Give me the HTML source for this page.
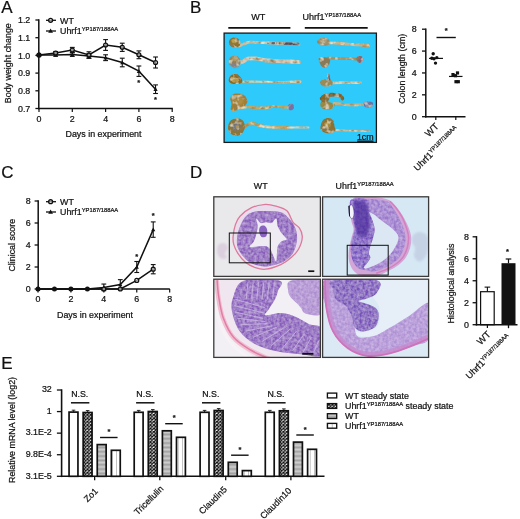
<!DOCTYPE html>
<html><head><meta charset="utf-8"><title>Figure</title>
<style>
html,body{margin:0;padding:0;background:#fff;}
body{width:520px;height:519px;overflow:hidden;}
svg{display:block;filter:blur(0.3px);font-family:"Liberation Sans",sans-serif;fill:#111;}
svg text{stroke:#111;stroke-width:0.22px;}
</style></head><body>
<svg width="520" height="519" viewBox="0 0 520 519">
<defs>
<filter id="b1" filterUnits="userSpaceOnUse" x="0" y="0" width="520" height="519"><feGaussianBlur stdDeviation="0.6"/></filter>
<filter id="b2" filterUnits="userSpaceOnUse" x="0" y="0" width="520" height="519"><feGaussianBlur stdDeviation="1.2"/></filter>
<filter id="b3" filterUnits="userSpaceOnUse" x="0" y="0" width="520" height="519"><feGaussianBlur stdDeviation="2.2"/></filter>
<filter id="tex" filterUnits="userSpaceOnUse" x="200" y="190" width="240" height="175"><feTurbulence type="fractalNoise" baseFrequency="0.35" numOctaves="2" seed="3" result="n"/><feColorMatrix in="n" type="matrix" values="0 0 0 0 0.88  0 0 0 0 0.76  0 0 0 0 0.96  1.3 0 0 0 -0.35" result="w"/><feGaussianBlur in="SourceGraphic" stdDeviation="0.6" result="s"/><feComposite in="w" in2="s" operator="in" result="wi"/><feColorMatrix in="wi" type="matrix" values="1 0 0 0 0  0 1 0 0 0  0 0 1 0 0  0 0 0 0.55 0" result="wl"/><feMerge><feMergeNode in="s"/><feMergeNode in="wl"/></feMerge></filter>
<filter id="texB" filterUnits="userSpaceOnUse" x="222" y="31" width="157" height="114"><feTurbulence type="fractalNoise" baseFrequency="0.2" numOctaves="2" seed="7" result="n"/><feColorMatrix in="n" type="matrix" values="0 0 0 0 0.30  0 0 0 0 0.20  0 0 0 0 0.08  2.6 0 0 0 -1.15" result="d"/><feComposite in="d" in2="SourceAlpha" operator="in" result="di"/><feColorMatrix in="n" type="matrix" values="0 0 0 0 0.90  0 0 0 0 0.84  0 0 0 0 0.66  0 2.4 0 0 -1.22" result="l"/><feComposite in="l" in2="SourceAlpha" operator="in" result="li"/><feMerge><feMergeNode in="SourceGraphic"/><feMergeNode in="di"/><feMergeNode in="li"/></feMerge></filter>
<pattern id="chk" width="3.5" height="3.4" patternUnits="userSpaceOnUse"><rect width="3.5" height="3.4" fill="#fff"/><path d="M0,0 L3.5,3.4 M3.5,0 L0,3.4" stroke="#111" stroke-width="1.15"/></pattern>
<pattern id="hst" width="2" height="1.3" patternUnits="userSpaceOnUse"><rect width="2" height="1.3" fill="#cfcfcf"/><rect width="2" height="0.45" fill="#8c8c8c"/></pattern>
<pattern id="vst" width="4.4" height="2" patternUnits="userSpaceOnUse"><rect width="4.4" height="2" fill="#fff"/><rect x="1.9" width="0.6" height="2" fill="#9a9a9a"/></pattern>
<clipPath id="cB"><rect x="224" y="33" width="152" height="110"/></clipPath>
<clipPath id="cD1"><rect x="214" y="197" width="106" height="79"/></clipPath>
<clipPath id="cD2"><rect x="322" y="197" width="106" height="79"/></clipPath>
<clipPath id="cD3"><rect x="214" y="279" width="106" height="78"/></clipPath>
<clipPath id="cD4"><rect x="322" y="279" width="106" height="78"/></clipPath>
</defs>
<rect width="520" height="519" fill="#fff"/>

<text x="1.2" y="13.3" font-size="17" text-anchor="start" font-weight="normal" >A</text>
<text x="190" y="13.3" font-size="17" text-anchor="start" font-weight="normal" >B</text>
<text x="1.2" y="177.5" font-size="17" text-anchor="start" font-weight="normal" >C</text>
<text x="190" y="177.5" font-size="17" text-anchor="start" font-weight="normal" >D</text>
<text x="1.2" y="369" font-size="17" text-anchor="start" font-weight="normal" >E</text>
<line x1="38.8" y1="19.3" x2="38.8" y2="109.2" stroke="#111" stroke-width="1.5" />
<line x1="38.1" y1="108.5" x2="172.8" y2="108.5" stroke="#111" stroke-width="1.5" />
<line x1="35.4" y1="20.0" x2="38.8" y2="20.0" stroke="#111" stroke-width="1.3" />
<text x="30.3" y="23.1" font-size="8.9" text-anchor="end" font-weight="normal" >1.2</text>
<line x1="35.4" y1="37.699999999999974" x2="38.8" y2="37.699999999999974" stroke="#111" stroke-width="1.3" />
<text x="30.3" y="40.799999999999976" font-size="8.9" text-anchor="end" font-weight="normal" >1.1</text>
<line x1="35.4" y1="55.39999999999999" x2="38.8" y2="55.39999999999999" stroke="#111" stroke-width="1.3" />
<text x="30.3" y="58.49999999999999" font-size="8.9" text-anchor="end" font-weight="normal" >1.0</text>
<line x1="35.4" y1="73.1" x2="38.8" y2="73.1" stroke="#111" stroke-width="1.3" />
<text x="30.3" y="76.19999999999999" font-size="8.9" text-anchor="end" font-weight="normal" >0.9</text>
<line x1="35.4" y1="90.79999999999998" x2="38.8" y2="90.79999999999998" stroke="#111" stroke-width="1.3" />
<text x="30.3" y="93.89999999999998" font-size="8.9" text-anchor="end" font-weight="normal" >0.8</text>
<line x1="35.4" y1="108.5" x2="38.8" y2="108.5" stroke="#111" stroke-width="1.3" />
<text x="30.3" y="111.6" font-size="8.9" text-anchor="end" font-weight="normal" >0.7</text>
<line x1="39.0" y1="108.5" x2="39.0" y2="112" stroke="#111" stroke-width="1.2" />
<text x="39.0" y="121.5" font-size="8.9" text-anchor="middle" font-weight="normal" >0</text>
<line x1="72.3" y1="108.5" x2="72.3" y2="112" stroke="#111" stroke-width="1.2" />
<text x="72.3" y="121.5" font-size="8.9" text-anchor="middle" font-weight="normal" >2</text>
<line x1="105.6" y1="108.5" x2="105.6" y2="112" stroke="#111" stroke-width="1.2" />
<text x="105.6" y="121.5" font-size="8.9" text-anchor="middle" font-weight="normal" >4</text>
<line x1="138.89999999999998" y1="108.5" x2="138.89999999999998" y2="112" stroke="#111" stroke-width="1.2" />
<text x="138.89999999999998" y="121.5" font-size="8.9" text-anchor="middle" font-weight="normal" >6</text>
<line x1="172.2" y1="108.5" x2="172.2" y2="112" stroke="#111" stroke-width="1.2" />
<text x="172.2" y="121.5" font-size="8.9" text-anchor="middle" font-weight="normal" >8</text>
<text x="103.5" y="137.2" font-size="8.9" text-anchor="middle" font-weight="normal" >Days in experiment</text>
<text transform="translate(10.6,63.2) rotate(-90)" font-size="8.9" text-anchor="middle">Body weight change</text>
<polyline fill="none" stroke="#111" stroke-width="1.5" points="39.0,55 55.6,53 72.3,50 88.9,55 105.6,45 122.2,47.3 138.9,54.8 155.5,62.5"/>
<polyline fill="none" stroke="#111" stroke-width="1.5" points="39.0,55 55.6,55 72.3,54.6 88.9,56 105.6,57.7 122.2,62.5 138.9,71.2 155.5,89.2"/>
<line x1="55.65" y1="51.5" x2="55.65" y2="54.5" stroke="#111" stroke-width="1.1" />
<line x1="53.25" y1="51.5" x2="58.05" y2="51.5" stroke="#111" stroke-width="1.1" />
<line x1="53.25" y1="54.5" x2="58.05" y2="54.5" stroke="#111" stroke-width="1.1" />
<line x1="55.65" y1="53.8" x2="55.65" y2="56.2" stroke="#111" stroke-width="1.1" />
<line x1="53.25" y1="53.8" x2="58.05" y2="53.8" stroke="#111" stroke-width="1.1" />
<line x1="53.25" y1="56.2" x2="58.05" y2="56.2" stroke="#111" stroke-width="1.1" />
<line x1="72.3" y1="47.4" x2="72.3" y2="52.6" stroke="#111" stroke-width="1.1" />
<line x1="69.89999999999999" y1="47.4" x2="74.7" y2="47.4" stroke="#111" stroke-width="1.1" />
<line x1="69.89999999999999" y1="52.6" x2="74.7" y2="52.6" stroke="#111" stroke-width="1.1" />
<line x1="72.3" y1="52.800000000000004" x2="72.3" y2="56.4" stroke="#111" stroke-width="1.1" />
<line x1="69.89999999999999" y1="52.800000000000004" x2="74.7" y2="52.800000000000004" stroke="#111" stroke-width="1.1" />
<line x1="69.89999999999999" y1="56.4" x2="74.7" y2="56.4" stroke="#111" stroke-width="1.1" />
<line x1="88.94999999999999" y1="51.8" x2="88.94999999999999" y2="58.2" stroke="#111" stroke-width="1.1" />
<line x1="86.54999999999998" y1="51.8" x2="91.35" y2="51.8" stroke="#111" stroke-width="1.1" />
<line x1="86.54999999999998" y1="58.2" x2="91.35" y2="58.2" stroke="#111" stroke-width="1.1" />
<line x1="88.94999999999999" y1="53.8" x2="88.94999999999999" y2="58.2" stroke="#111" stroke-width="1.1" />
<line x1="86.54999999999998" y1="53.8" x2="91.35" y2="53.8" stroke="#111" stroke-width="1.1" />
<line x1="86.54999999999998" y1="58.2" x2="91.35" y2="58.2" stroke="#111" stroke-width="1.1" />
<line x1="105.6" y1="39.6" x2="105.6" y2="50.4" stroke="#111" stroke-width="1.1" />
<line x1="103.19999999999999" y1="39.6" x2="108.0" y2="39.6" stroke="#111" stroke-width="1.1" />
<line x1="103.19999999999999" y1="50.4" x2="108.0" y2="50.4" stroke="#111" stroke-width="1.1" />
<line x1="105.6" y1="54.800000000000004" x2="105.6" y2="60.6" stroke="#111" stroke-width="1.1" />
<line x1="103.19999999999999" y1="54.800000000000004" x2="108.0" y2="54.800000000000004" stroke="#111" stroke-width="1.1" />
<line x1="103.19999999999999" y1="60.6" x2="108.0" y2="60.6" stroke="#111" stroke-width="1.1" />
<line x1="122.25" y1="43.199999999999996" x2="122.25" y2="51.4" stroke="#111" stroke-width="1.1" />
<line x1="119.85" y1="43.199999999999996" x2="124.65" y2="43.199999999999996" stroke="#111" stroke-width="1.1" />
<line x1="119.85" y1="51.4" x2="124.65" y2="51.4" stroke="#111" stroke-width="1.1" />
<line x1="122.25" y1="58.2" x2="122.25" y2="66.8" stroke="#111" stroke-width="1.1" />
<line x1="119.85" y1="58.2" x2="124.65" y2="58.2" stroke="#111" stroke-width="1.1" />
<line x1="119.85" y1="66.8" x2="124.65" y2="66.8" stroke="#111" stroke-width="1.1" />
<line x1="138.89999999999998" y1="50.9" x2="138.89999999999998" y2="58.699999999999996" stroke="#111" stroke-width="1.1" />
<line x1="136.49999999999997" y1="50.9" x2="141.29999999999998" y2="50.9" stroke="#111" stroke-width="1.1" />
<line x1="136.49999999999997" y1="58.699999999999996" x2="141.29999999999998" y2="58.699999999999996" stroke="#111" stroke-width="1.1" />
<line x1="138.89999999999998" y1="66.0" x2="138.89999999999998" y2="76.4" stroke="#111" stroke-width="1.1" />
<line x1="136.49999999999997" y1="66.0" x2="141.29999999999998" y2="66.0" stroke="#111" stroke-width="1.1" />
<line x1="136.49999999999997" y1="76.4" x2="141.29999999999998" y2="76.4" stroke="#111" stroke-width="1.1" />
<line x1="155.54999999999998" y1="57.0" x2="155.54999999999998" y2="68.0" stroke="#111" stroke-width="1.1" />
<line x1="153.14999999999998" y1="57.0" x2="157.95" y2="57.0" stroke="#111" stroke-width="1.1" />
<line x1="153.14999999999998" y1="68.0" x2="157.95" y2="68.0" stroke="#111" stroke-width="1.1" />
<line x1="155.54999999999998" y1="84.9" x2="155.54999999999998" y2="93.5" stroke="#111" stroke-width="1.1" />
<line x1="153.14999999999998" y1="84.9" x2="157.95" y2="84.9" stroke="#111" stroke-width="1.1" />
<line x1="153.14999999999998" y1="93.5" x2="157.95" y2="93.5" stroke="#111" stroke-width="1.1" />
<polygon points="39.0,52.9 36.9,56.68 41.1,56.68" fill="#111"/>
<circle cx="39.0" cy="55" r="1.95" fill="#fff" fill-opacity="0.55" stroke="#111" stroke-width="1.3"/>
<polygon points="55.65,52.9 53.55,56.68 57.75,56.68" fill="#111"/>
<circle cx="55.65" cy="53" r="1.95" fill="#fff" fill-opacity="0.55" stroke="#111" stroke-width="1.3"/>
<polygon points="72.3,52.5 70.2,56.28 74.39999999999999,56.28" fill="#111"/>
<circle cx="72.3" cy="50" r="1.95" fill="#fff" fill-opacity="0.55" stroke="#111" stroke-width="1.3"/>
<polygon points="88.94999999999999,53.9 86.85,57.68 91.04999999999998,57.68" fill="#111"/>
<circle cx="88.94999999999999" cy="55" r="1.95" fill="#fff" fill-opacity="0.55" stroke="#111" stroke-width="1.3"/>
<polygon points="105.6,55.6 103.5,59.38 107.69999999999999,59.38" fill="#111"/>
<circle cx="105.6" cy="45" r="1.95" fill="#fff" fill-opacity="0.55" stroke="#111" stroke-width="1.3"/>
<polygon points="122.25,60.4 120.15,64.18 124.35,64.18" fill="#111"/>
<circle cx="122.25" cy="47.3" r="1.95" fill="#fff" fill-opacity="0.55" stroke="#111" stroke-width="1.3"/>
<polygon points="138.89999999999998,69.10000000000001 136.79999999999998,72.88000000000001 140.99999999999997,72.88000000000001" fill="#111"/>
<circle cx="138.89999999999998" cy="54.8" r="1.95" fill="#fff" fill-opacity="0.55" stroke="#111" stroke-width="1.3"/>
<polygon points="155.54999999999998,87.10000000000001 153.45,90.88000000000001 157.64999999999998,90.88000000000001" fill="#111"/>
<circle cx="155.54999999999998" cy="62.5" r="1.95" fill="#fff" fill-opacity="0.55" stroke="#111" stroke-width="1.3"/>
<circle cx="39.0" cy="55" r="2.5" fill="#111"/>
<text x="137.14" y="84.50" font-size="7.5" font-weight="bold">*</text>
<text x="153.89" y="102.20" font-size="7.5" font-weight="bold">*</text>
<line x1="46" y1="20.3" x2="56" y2="20.3" stroke="#111" stroke-width="1.3" />
<circle cx="50.6" cy="20.3" r="1.95" fill="#fff" fill-opacity="0.55" stroke="#111" stroke-width="1.3"/>
<line x1="46" y1="31" x2="56" y2="31" stroke="#111" stroke-width="1.3" />
<polygon points="50.6,28.400000000000002 48.2,32.72 53.0,32.72" fill="#111"/>
<text x="60" y="23.5" font-size="8.9" text-anchor="start" font-weight="normal" >WT</text>
<text x="60" y="34.3" font-size="8.9" text-anchor="start" font-weight="normal" >Uhrf1<tspan font-size="5.8" dy="-3.38" font-weight="normal">YP187/188AA</tspan></text>
<text x="258.3" y="20.4" font-size="9.1" text-anchor="middle" font-weight="normal" stroke-width="0.4">WT</text>
<line x1="228.3" y1="27.9" x2="290.4" y2="27.9" stroke="#111" stroke-width="1.6" />
<text x="302.6" y="20.4" font-size="9.0" text-anchor="start" font-weight="normal" stroke-width="0.4">Uhrf1<tspan font-size="5.8" dy="-3.42" font-weight="normal">YP187/188AA</tspan></text>
<line x1="304.8" y1="27.9" x2="367.7" y2="27.9" stroke="#111" stroke-width="1.6" />
<g clip-path="url(#cB)">
<rect x="223" y="32" width="155" height="112" fill="#2ecafb"/>
<g filter="url(#texB)">
<path d="M239.3,45.9 C240.2,45.6 242.8,44.5 244.5,43.8 C246.2,43.2 247.1,42.3 249.7,42.1 C252.3,41.9 256.0,42.3 260.1,42.5 C264.1,42.6 269.3,43.0 273.9,43.2 C278.5,43.3 283.6,43.3 287.8,43.5 C292.0,43.7 297.1,44.1 299.0,44.2" fill="none" stroke="#cfc4a6" stroke-width="2.7" stroke-linecap="round" stroke-linejoin="round" filter="url(#b1)" />
<path d="M268.4,43.0 C269.3,43.0 273.0,43.1 273.9,43.2" fill="none" stroke="#5a566a" stroke-width="2.2" stroke-linecap="round" stroke-linejoin="round" filter="url(#b1)" />
<path d="M277.0,43.2 C277.4,43.2 279.1,43.3 279.5,43.3" fill="none" stroke="#5a566a" stroke-width="2.0" stroke-linecap="round" stroke-linejoin="round" filter="url(#b1)" />
<path d="M284.3,43.5 C286.6,43.6 295.8,43.9 298.2,44.0" fill="none" stroke="#4c4a62" stroke-width="2.4" stroke-linecap="round" stroke-linejoin="round" filter="url(#b1)" />
<path d="M229.3,40.4 C229.8,39.3 231.1,38.1 232.4,37.8 C233.7,37.4 235.9,37.7 237.2,38.3 C238.5,38.9 239.7,40.1 240.2,41.2 C240.6,42.4 240.6,44.2 240.0,45.2 C239.4,46.2 238.0,47.0 236.7,47.3 C235.4,47.6 233.3,47.5 232.0,47.0 C230.8,46.4 229.7,45.3 229.3,44.2 C228.8,43.1 228.8,41.5 229.3,40.4Z" fill="#8d7330" filter="url(#b1)" />
<path d="M231.5,40.0 C232.0,39.4 234.0,38.9 235.0,39.0 C236.0,39.1 237.4,40.1 237.6,40.7 C237.7,41.4 236.7,42.6 235.8,43.0 C235.0,43.3 233.1,43.3 232.4,42.8 C231.7,42.3 231.1,40.7 231.5,40.0Z" fill="#bfa552" filter="url(#b1)" opacity="0.9"/>
<path d="M239.3,62.9 C240.0,62.6 242.2,61.8 243.6,61.2 C245.1,60.5 245.8,59.1 248.0,58.7 C250.1,58.3 253.4,58.4 256.6,58.7 C259.8,59.0 263.2,60.1 267.0,60.5 C270.8,60.9 275.1,61.0 279.1,61.2 C283.2,61.3 287.9,61.3 291.2,61.5 C294.5,61.7 297.7,62.1 299.0,62.2" fill="none" stroke="#d6c8b4" stroke-width="3.8" stroke-linecap="round" stroke-linejoin="round" filter="url(#b1)" />
<path d="M249.7,58.4 C251.7,58.5 259.8,59.0 261.8,59.1" fill="none" stroke="#b39a72" stroke-width="1.4" stroke-linecap="round" stroke-linejoin="round" filter="url(#b1)" opacity="0.8"/>
<path d="M228.9,60.3 C229.3,59.0 230.2,57.0 231.5,56.3 C232.8,55.6 235.3,55.4 236.7,56.0 C238.1,56.5 239.4,58.1 240.0,59.4 C240.6,60.7 240.6,62.5 240.2,63.8 C239.8,65.0 238.9,66.5 237.6,67.0 C236.3,67.6 233.8,67.5 232.4,67.0 C231.0,66.6 229.8,65.4 229.3,64.3 C228.7,63.1 228.5,61.6 228.9,60.3Z" fill="#9b8d6c" filter="url(#b1)" />
<path d="M230.7,63.8 C231.3,63.1 234.5,62.7 235.8,62.9 C237.2,63.0 238.8,63.9 239.0,64.6 C239.1,65.3 237.9,66.7 236.7,67.0 C235.6,67.4 233.0,67.2 232.0,66.7 C231.0,66.1 230.0,64.4 230.7,63.8Z" fill="#74809c" filter="url(#b2)" opacity="0.8"/>
<path d="M231.5,58.6 C231.6,57.9 234.0,57.2 235.0,57.3 C235.9,57.5 237.3,58.8 237.2,59.4 C237.1,60.1 235.4,61.3 234.5,61.2 C233.5,61.0 231.4,59.2 231.5,58.6Z" fill="#b8a468" filter="url(#b1)" opacity="0.85"/>
<path d="M240.2,81.9 C241.8,81.9 245.8,81.6 249.7,81.6 C253.6,81.5 258.6,81.7 263.5,81.8 C268.4,81.8 274.5,82.1 279.1,82.1 C283.7,82.1 287.8,82.0 291.2,81.9 C294.7,81.9 298.4,81.8 299.9,81.8" fill="none" stroke="#d7cfa4" stroke-width="2.1" stroke-linecap="round" stroke-linejoin="round" filter="url(#b1)" />
<path d="M272.2,82.1 C275.1,82.1 286.6,82.1 289.5,82.1" fill="none" stroke="#8f8a6a" stroke-width="1.0" stroke-linecap="round" stroke-linejoin="round" filter="url(#b1)" opacity="0.8"/>
<path d="M295.6,81.8 C296.3,81.8 299.2,81.8 299.9,81.8" fill="none" stroke="#d9d3b4" stroke-width="3.0" stroke-linecap="round" stroke-linejoin="round" filter="url(#b1)" />
<path d="M228.9,78.8 C229.3,77.7 230.2,75.8 231.5,75.0 C232.8,74.2 235.2,73.7 236.7,74.1 C238.2,74.6 239.7,76.3 240.7,77.6 C241.6,78.9 242.8,80.9 242.4,81.9 C242.0,83.0 240.1,83.7 238.4,84.0 C236.8,84.3 233.9,84.0 232.4,83.7 C230.9,83.3 229.8,82.7 229.3,81.9 C228.7,81.1 228.5,80.0 228.9,78.8Z" fill="#8b6a22" filter="url(#b1)" />
<path d="M231.5,79.3 C232.1,78.6 234.5,77.4 235.8,77.6 C237.1,77.8 239.3,79.7 239.3,80.5 C239.3,81.3 237.0,82.2 235.8,82.4 C234.7,82.7 233.1,82.4 232.4,81.9 C231.7,81.4 230.9,80.0 231.5,79.3Z" fill="#c2a648" filter="url(#b1)" opacity="0.9"/>
<path d="M232.7,110.2 C233.8,109.9 236.8,108.7 239.3,108.2 C241.8,107.6 245.1,106.8 248.0,106.8 C250.8,106.7 253.7,107.6 256.6,107.8 C259.5,108.0 262.4,108.0 265.3,107.8 C268.2,107.6 271.0,106.5 273.9,106.4 C276.8,106.3 280.1,107.0 282.6,107.1 C285.0,107.2 287.6,107.1 288.6,107.1" fill="none" stroke="#c4a862" stroke-width="2.7" stroke-linecap="round" stroke-linejoin="round" filter="url(#b1)" />
<path d="M288.6,104.7 C289.3,104.0 291.2,103.5 292.1,103.8 C293.0,104.1 293.9,105.5 294.0,106.4 C294.1,107.4 293.7,108.9 293.0,109.5 C292.3,110.2 290.7,110.5 289.8,110.2 C289.0,109.9 288.3,108.7 288.1,107.8 C287.9,106.9 288.0,105.4 288.6,104.7Z" fill="#7672a6" filter="url(#b1)" />
<path d="M230.3,98.1 C230.7,96.4 232.5,94.5 234.1,93.8 C235.8,93.1 238.3,93.4 240.2,93.8 C242.0,94.2 244.2,95.1 245.4,96.4 C246.5,97.7 247.4,100.0 247.3,101.6 C247.1,103.2 245.7,104.9 244.5,105.9 C243.3,106.9 241.8,106.9 240.2,107.6 C238.6,108.4 236.6,109.9 235.0,110.2 C233.4,110.5 231.2,110.4 230.7,109.4 C230.1,108.4 231.6,106.0 231.5,104.2 C231.5,102.3 229.9,99.8 230.3,98.1Z" fill="#a37e36" filter="url(#b1)" />
<path d="M234.1,98.1 C234.7,96.8 237.7,96.1 239.3,96.4 C240.9,96.7 243.3,98.5 243.6,99.8 C243.9,101.1 242.3,103.5 241.0,104.2 C239.7,104.9 237.0,105.2 235.8,104.2 C234.7,103.2 233.5,99.4 234.1,98.1Z" fill="#b39444" filter="url(#b2)" opacity="0.85"/>
<path d="M241.9,128.4 C242.8,127.8 245.4,125.8 247.1,124.9 C248.8,124.0 250.3,123.0 252.3,123.0 C254.3,123.1 256.8,124.8 259.2,125.5 C261.7,126.1 264.0,126.6 267.0,126.8 C270.0,127.1 273.9,127.1 277.4,127.2 C280.8,127.3 286.0,127.5 287.8,127.5" fill="none" stroke="#c0a468" stroke-width="3.1" stroke-linecap="round" stroke-linejoin="round" filter="url(#b1)" />
<path d="M287.8,127.5 C289.5,127.5 294.7,127.5 298.2,127.5 C301.6,127.5 306.8,127.5 308.5,127.5" fill="none" stroke="#d4cbb6" stroke-width="2.0" stroke-linecap="round" stroke-linejoin="round" filter="url(#b1)" />
<path d="M228.1,126.7 C228.3,124.9 229.2,122.0 230.7,120.6 C232.1,119.2 234.8,118.2 236.7,118.2 C238.7,118.1 241.1,119.0 242.4,120.3 C243.8,121.5 244.7,123.9 244.8,125.8 C245.0,127.7 244.2,130.2 243.1,131.9 C242.0,133.5 240.2,135.0 238.4,135.5 C236.7,136.0 234.0,135.5 232.4,134.8 C230.8,134.1 229.6,132.7 228.9,131.3 C228.2,130.0 227.8,128.5 228.1,126.7Z" fill="#8d7436" filter="url(#b1)" />
<path d="M232.7,124.4 C233.5,123.4 235.9,122.2 237.2,122.3 C238.6,122.5 240.3,124.2 240.7,125.5 C241.0,126.7 240.3,128.8 239.3,129.6 C238.4,130.5 236.1,130.9 235.0,130.7 C233.8,130.4 232.8,129.3 232.4,128.2 C232.0,127.2 231.9,125.4 232.7,124.4Z" fill="#66749e" filter="url(#b2)" opacity="0.8"/>
<path d="M235.5,125.5 C235.9,124.9 237.9,124.5 238.4,124.9 C239.0,125.3 239.3,127.3 239.0,127.9 C238.6,128.5 236.8,129.0 236.2,128.6 C235.6,128.2 235.1,126.1 235.5,125.5Z" fill="#a58c4a" filter="url(#b1)" />
<path d="M328.6,42.8 C330.1,42.9 334.8,42.9 338.1,43.2 C341.4,43.4 345.0,43.9 348.5,44.2 C351.9,44.5 355.7,44.7 358.8,44.9 C362.0,45.1 366.1,45.5 367.5,45.6" fill="none" stroke="#c9b48c" stroke-width="2.9" stroke-linecap="round" stroke-linejoin="round" filter="url(#b1)" />
<path d="M364.0,45.2 C364.8,45.3 367.6,45.7 368.4,45.8" fill="none" stroke="#c4a878" stroke-width="3.6" stroke-linecap="round" stroke-linejoin="round" filter="url(#b1)" />
<path d="M317.3,40.7 C317.8,39.9 319.3,38.6 320.8,38.1 C322.2,37.6 324.5,37.4 326.0,37.8 C327.4,38.2 328.8,39.4 329.4,40.4 C330.1,41.4 330.3,43.0 329.8,43.8 C329.2,44.7 327.5,45.4 326.0,45.6 C324.5,45.8 322.2,45.3 320.8,44.9 C319.4,44.5 318.2,43.8 317.7,43.2 C317.1,42.5 316.8,41.6 317.3,40.7Z" fill="#a2987a" filter="url(#b1)" />
<path d="M320.4,40.0 C320.9,39.5 323.2,38.8 324.2,39.0 C325.3,39.2 326.8,40.4 326.8,41.1 C326.8,41.7 325.2,42.6 324.2,42.8 C323.3,43.0 321.8,42.6 321.1,42.1 C320.5,41.7 319.9,40.6 320.4,40.0Z" fill="#c9c2a0" filter="url(#b1)" opacity="0.8"/>
<path d="M319.9,58.7 C321.5,58.6 326.1,58.1 329.4,58.0 C332.7,58.0 336.3,58.3 339.8,58.4 C343.3,58.5 347.2,58.6 350.2,58.7 C353.2,58.8 356.7,59.0 358.0,59.1" fill="none" stroke="#b0905c" stroke-width="2.6" stroke-linecap="round" stroke-linejoin="round" filter="url(#b1)" />
<path d="M357.1,57.0 C357.7,56.2 359.5,55.7 360.6,56.0 C361.6,56.2 363.1,57.5 363.3,58.6 C363.6,59.6 363.0,61.3 362.3,62.0 C361.6,62.7 360.1,63.1 359.2,62.9 C358.3,62.6 357.5,61.4 357.1,60.5 C356.8,59.5 356.5,57.8 357.1,57.0Z" fill="#84647a" filter="url(#b1)" />
<path d="M319.0,58.6 C319.8,57.6 322.4,57.5 324.2,57.7 C326.0,57.8 329.0,58.3 329.8,59.4 C330.6,60.5 329.7,63.0 329.1,64.3 C328.4,65.6 327.1,66.8 326.0,67.2 C324.8,67.6 323.2,67.4 322.2,66.7 C321.1,66.0 320.4,64.6 319.9,63.2 C319.4,61.9 318.3,59.5 319.0,58.6Z" fill="#8a7a5a" filter="url(#b1)" />
<path d="M331.2,83.0 C332.9,82.9 338.1,82.6 341.5,82.6 C345.0,82.6 348.8,82.8 351.9,82.8 C355.1,82.8 359.1,82.8 360.6,82.8" fill="none" stroke="#d9d1b2" stroke-width="2.6" stroke-linecap="round" stroke-linejoin="round" filter="url(#b1)" />
<path d="M319.9,81.9 C320.0,80.8 321.8,80.0 323.4,79.5 C325.0,79.0 327.9,78.8 329.4,79.2 C331.0,79.5 332.1,80.6 332.5,81.6 C333.0,82.6 332.8,84.2 332.0,85.0 C331.2,85.8 329.3,86.3 327.7,86.4 C326.1,86.6 323.8,86.8 322.5,86.1 C321.2,85.3 319.8,83.0 319.9,81.9Z" fill="#9c8c58" filter="url(#b1)" />
<path d="M327.3,73.6 C327.6,73.0 328.3,72.8 328.7,73.3 C329.1,73.7 329.5,75.2 329.8,76.4 C330.0,77.5 330.5,79.5 330.1,80.2 C329.8,80.9 328.2,81.1 327.7,80.5 C327.2,80.0 327.4,78.2 327.3,77.1 C327.3,75.9 327.1,74.2 327.3,73.6Z" fill="#4e5c7e" filter="url(#b1)" />
<path d="M327.7,76.4 C327.8,77.0 328.1,79.3 328.2,79.8" fill="none" stroke="#e6e6e6" stroke-width="0.9" stroke-linecap="round" stroke-linejoin="round" filter="url(#b1)" />
<path d="M333.8,103.3 C335.0,103.4 338.8,103.7 341.5,104.0 C344.3,104.3 347.3,104.9 350.2,105.0 C353.1,105.2 356.4,104.8 358.8,104.7 C361.3,104.6 363.9,104.4 364.9,104.3" fill="none" stroke="#c9b284" stroke-width="2.6" stroke-linecap="round" stroke-linejoin="round" filter="url(#b1)" />
<path d="M364.0,102.6 C364.7,101.8 366.9,101.2 368.4,101.2 C369.8,101.2 372.0,101.8 372.7,102.6 C373.4,103.5 373.1,105.6 372.3,106.4 C371.6,107.3 369.7,107.8 368.4,107.8 C367.0,107.8 365.1,107.3 364.4,106.4 C363.7,105.6 363.4,103.5 364.0,102.6Z" fill="#6474aa" filter="url(#b1)" />
<path d="M320.8,102.4 C321.3,101.4 321.8,99.8 323.4,99.8 C325.0,99.8 328.4,101.7 330.3,102.4 C332.2,103.2 334.2,103.2 334.6,104.2 C335.0,105.1 334.0,107.3 332.9,108.2 C331.7,109.0 329.4,109.5 327.7,109.5 C326.0,109.6 323.7,109.1 322.5,108.5 C321.3,107.9 320.7,106.9 320.4,105.9 C320.1,104.9 320.3,103.5 320.8,102.4Z" fill="#9a8a42" filter="url(#b1)" />
<path d="M321.6,98.5 C322.4,98.0 323.9,96.2 326.0,95.5 C328.0,94.9 331.3,94.6 333.8,94.7 C336.2,94.7 339.2,95.4 340.7,96.0 C342.1,96.7 342.1,98.1 342.4,98.5" fill="none" stroke="#7a5a20" stroke-width="3.6" stroke-linecap="round" filter="url(#b1)"/>
<path d="M321.1,96.4 C321.7,95.1 324.6,94.2 326.0,94.3 C327.3,94.4 329.1,95.6 329.4,96.7 C329.7,97.9 328.8,100.4 327.7,101.2 C326.5,102.1 323.6,102.7 322.5,101.9 C321.4,101.1 320.5,97.7 321.1,96.4Z" fill="#84662a" filter="url(#b1)" />
<path d="M333.8,130.0 C335.6,130.0 341.1,130.3 345.0,130.5 C348.9,130.6 353.1,130.7 357.1,130.8 C361.2,130.9 367.2,131.1 369.2,131.2" fill="none" stroke="#c9c0a0" stroke-width="1.8" stroke-linecap="round" stroke-linejoin="round" filter="url(#b1)" />
<path d="M358.8,130.7 C360.7,130.6 368.2,130.4 370.1,130.3" fill="none" stroke="#a9a090" stroke-width="1.0" stroke-linecap="round" stroke-linejoin="round" filter="url(#b1)" opacity="0.8"/>
<path d="M320.8,125.8 C321.1,124.0 322.1,121.0 323.4,119.8 C324.7,118.5 326.9,117.9 328.6,118.0 C330.2,118.2 332.2,119.2 333.2,120.6 C334.2,122.1 334.2,125.0 334.6,126.7 C335.0,128.3 336.1,129.6 335.5,130.7 C334.9,131.7 332.9,132.7 331.2,133.1 C329.4,133.4 326.8,133.2 325.1,132.7 C323.4,132.3 321.8,131.5 321.1,130.3 C320.4,129.2 320.4,127.6 320.8,125.8Z" fill="#8b7230" filter="url(#b1)" />
<path d="M324.2,123.2 C324.8,122.3 327.4,121.2 328.6,121.5 C329.7,121.8 331.2,123.9 331.2,124.9 C331.2,126.0 329.6,127.2 328.6,127.5 C327.5,127.9 325.8,127.6 325.1,126.8 C324.4,126.1 323.7,124.1 324.2,123.2Z" fill="#ad923f" filter="url(#b1)" opacity="0.9"/>
</g></g>
<rect x="224.1" y="33.1" width="152.3" height="109.3" fill="none" stroke="#1a1a1a" stroke-width="1.3"/>
<text x="365.3" y="139.8" font-size="8.9" text-anchor="middle" font-weight="normal" stroke-width="0.35">1cm</text>
<line x1="357.2" y1="141.2" x2="373.5" y2="141.2" stroke="#111" stroke-width="1.4" />
<line x1="425.8" y1="28.5" x2="425.8" y2="117.4" stroke="#111" stroke-width="1.5" />
<line x1="425.1" y1="116.7" x2="465.5" y2="116.7" stroke="#111" stroke-width="1.5" />
<line x1="422" y1="116.7" x2="425.8" y2="116.7" stroke="#111" stroke-width="1.3" />
<text x="416.6" y="119.8" font-size="8.9" text-anchor="end" font-weight="normal" >0</text>
<line x1="422" y1="94.825" x2="425.8" y2="94.825" stroke="#111" stroke-width="1.3" />
<text x="416.6" y="97.925" font-size="8.9" text-anchor="end" font-weight="normal" >2</text>
<line x1="422" y1="72.95" x2="425.8" y2="72.95" stroke="#111" stroke-width="1.3" />
<text x="416.6" y="76.05" font-size="8.9" text-anchor="end" font-weight="normal" >4</text>
<line x1="422" y1="51.075" x2="425.8" y2="51.075" stroke="#111" stroke-width="1.3" />
<text x="416.6" y="54.175000000000004" font-size="8.9" text-anchor="end" font-weight="normal" >6</text>
<line x1="422" y1="29.200000000000003" x2="425.8" y2="29.200000000000003" stroke="#111" stroke-width="1.3" />
<text x="416.6" y="32.300000000000004" font-size="8.9" text-anchor="end" font-weight="normal" >8</text>
<line x1="435.8" y1="116.7" x2="435.8" y2="120" stroke="#111" stroke-width="1.2" />
<line x1="455.8" y1="116.7" x2="455.8" y2="120" stroke="#111" stroke-width="1.2" />
<text transform="translate(404.9,68.8) rotate(-90)" font-size="8.9" text-anchor="middle">Colon length (cm)</text>
<circle cx="433.2" cy="53.809375" r="1.7" fill="#111"/>
<circle cx="431.8" cy="58.18437500000001" r="1.7" fill="#111"/>
<circle cx="436.8" cy="57.637499999999996" r="1.7" fill="#111"/>
<circle cx="435.5" cy="63.106249999999996" r="1.7" fill="#111"/>
<circle cx="434" cy="58.73125" r="1.7" fill="#111"/>
<line x1="429" y1="58.403125" x2="443" y2="58.403125" stroke="#111" stroke-width="1.2" />
<rect x="451.4" y="72.99062500000001" width="3.2" height="3.2" fill="#111"/>
<rect x="455.9" y="71.35000000000001" width="3.2" height="3.2" fill="#111"/>
<rect x="454.4" y="80.10000000000001" width="3.2" height="3.2" fill="#111"/>
<rect x="456.7" y="80.10000000000001" width="3.2" height="3.2" fill="#111"/>
<rect x="453.9" y="74.08437500000001" width="3.2" height="3.2" fill="#111"/>
<line x1="449" y1="76.45" x2="462.5" y2="76.45" stroke="#111" stroke-width="1.2" />
<line x1="436.5" y1="37.5" x2="455.8" y2="37.5" stroke="#111" stroke-width="1.4" />
<text x="444.84" y="33.40" font-size="7.5" font-weight="bold">*</text>
<text transform="translate(439.3,127) rotate(-45)" font-size="9.5" text-anchor="end">WT</text>
<text transform="translate(459,130) rotate(-45)" font-size="9.1" text-anchor="end">Uhrf1<tspan font-size="5.8" dy="-3.2">YP187/188AA</tspan></text>
<line x1="38.2" y1="200.3" x2="38.2" y2="289.7" stroke="#111" stroke-width="1.5" />
<line x1="37.5" y1="289" x2="169.8" y2="289" stroke="#111" stroke-width="1.5" />
<line x1="34.6" y1="289.0" x2="38.2" y2="289.0" stroke="#111" stroke-width="1.3" />
<text x="30.6" y="292.1" font-size="8.9" text-anchor="end" font-weight="normal" >0</text>
<line x1="34.6" y1="267.0" x2="38.2" y2="267.0" stroke="#111" stroke-width="1.3" />
<text x="30.6" y="270.1" font-size="8.9" text-anchor="end" font-weight="normal" >2</text>
<line x1="34.6" y1="245.0" x2="38.2" y2="245.0" stroke="#111" stroke-width="1.3" />
<text x="30.6" y="248.1" font-size="8.9" text-anchor="end" font-weight="normal" >4</text>
<line x1="34.6" y1="223.0" x2="38.2" y2="223.0" stroke="#111" stroke-width="1.3" />
<text x="30.6" y="226.1" font-size="8.9" text-anchor="end" font-weight="normal" >6</text>
<line x1="34.6" y1="201.0" x2="38.2" y2="201.0" stroke="#111" stroke-width="1.3" />
<text x="30.6" y="204.1" font-size="8.9" text-anchor="end" font-weight="normal" >8</text>
<line x1="38.0" y1="289" x2="38.0" y2="292.5" stroke="#111" stroke-width="1.2" />
<text x="38.0" y="302" font-size="8.9" text-anchor="middle" font-weight="normal" >0</text>
<line x1="70.92" y1="289" x2="70.92" y2="292.5" stroke="#111" stroke-width="1.2" />
<text x="70.92" y="302" font-size="8.9" text-anchor="middle" font-weight="normal" >2</text>
<line x1="103.84" y1="289" x2="103.84" y2="292.5" stroke="#111" stroke-width="1.2" />
<text x="103.84" y="302" font-size="8.9" text-anchor="middle" font-weight="normal" >4</text>
<line x1="136.76" y1="289" x2="136.76" y2="292.5" stroke="#111" stroke-width="1.2" />
<text x="136.76" y="302" font-size="8.9" text-anchor="middle" font-weight="normal" >6</text>
<line x1="169.68" y1="289" x2="169.68" y2="292.5" stroke="#111" stroke-width="1.2" />
<text x="169.68" y="302" font-size="8.9" text-anchor="middle" font-weight="normal" >8</text>
<text x="95" y="318.3" font-size="8.9" text-anchor="middle" font-weight="normal" >Days in experiment</text>
<text transform="translate(14.8,245.2) rotate(-90)" font-size="8.9" text-anchor="middle">Clinical score</text>
<polyline fill="none" stroke="#111" stroke-width="1.5" points="38.0,289.0 54.5,289.0 70.9,289.0 87.4,289.0 103.8,287.4 120.3,284.6 136.8,267.0 153.2,229.6"/>
<polyline fill="none" stroke="#111" stroke-width="1.5" points="38.0,289.0 54.5,289.0 70.9,289.0 87.4,289.0 103.8,289.0 120.3,289.0 136.8,280.4 153.2,269.2"/>
<line x1="103.84" y1="284.05" x2="103.84" y2="290.65000000000003" stroke="#111" stroke-width="1.1" />
<line x1="101.44" y1="284.05" x2="106.24000000000001" y2="284.05" stroke="#111" stroke-width="1.1" />
<line x1="101.44" y1="290.65000000000003" x2="106.24000000000001" y2="290.65000000000003" stroke="#111" stroke-width="1.1" />
<line x1="120.30000000000001" y1="279.65000000000003" x2="120.30000000000001" y2="289.55" stroke="#111" stroke-width="1.1" />
<line x1="117.9" y1="279.65000000000003" x2="122.70000000000002" y2="279.65000000000003" stroke="#111" stroke-width="1.1" />
<line x1="117.9" y1="289.55" x2="122.70000000000002" y2="289.55" stroke="#111" stroke-width="1.1" />
<line x1="136.76" y1="261.5" x2="136.76" y2="272.5" stroke="#111" stroke-width="1.1" />
<line x1="134.35999999999999" y1="261.5" x2="139.16" y2="261.5" stroke="#111" stroke-width="1.1" />
<line x1="134.35999999999999" y1="272.5" x2="139.16" y2="272.5" stroke="#111" stroke-width="1.1" />
<line x1="153.22" y1="221.9" x2="153.22" y2="237.29999999999998" stroke="#111" stroke-width="1.1" />
<line x1="150.82" y1="221.9" x2="155.62" y2="221.9" stroke="#111" stroke-width="1.1" />
<line x1="150.82" y1="237.29999999999998" x2="155.62" y2="237.29999999999998" stroke="#111" stroke-width="1.1" />
<line x1="153.22" y1="264.58" x2="153.22" y2="273.82" stroke="#111" stroke-width="1.1" />
<line x1="150.82" y1="264.58" x2="155.62" y2="264.58" stroke="#111" stroke-width="1.1" />
<line x1="150.82" y1="273.82" x2="155.62" y2="273.82" stroke="#111" stroke-width="1.1" />
<circle cx="38.0" cy="289" r="2.5" fill="#111"/>
<circle cx="54.46" cy="289" r="2.5" fill="#111"/>
<circle cx="70.92" cy="289" r="2.5" fill="#111"/>
<circle cx="87.38" cy="289" r="2.5" fill="#111"/>
<polygon points="103.84,285.25 101.74000000000001,289.03000000000003 105.94,289.03000000000003" fill="#111"/>
<circle cx="103.84" cy="289.0" r="1.95" fill="#fff" fill-opacity="0.55" stroke="#111" stroke-width="1.3"/>
<polygon points="120.30000000000001,282.5 118.20000000000002,286.28000000000003 122.4,286.28000000000003" fill="#111"/>
<circle cx="120.30000000000001" cy="289.0" r="1.95" fill="#fff" fill-opacity="0.55" stroke="#111" stroke-width="1.3"/>
<polygon points="136.76,264.9 134.66,268.68 138.85999999999999,268.68" fill="#111"/>
<circle cx="136.76" cy="280.42" r="1.95" fill="#fff" fill-opacity="0.55" stroke="#111" stroke-width="1.3"/>
<polygon points="153.22,227.5 151.12,231.28 155.32,231.28" fill="#111"/>
<circle cx="153.22" cy="269.2" r="1.95" fill="#fff" fill-opacity="0.55" stroke="#111" stroke-width="1.3"/>
<text x="135.30" y="258.90" font-size="7.5" font-weight="bold">*</text>
<text x="151.76" y="218.40" font-size="7.5" font-weight="bold">*</text>
<line x1="46" y1="201.7" x2="56" y2="201.7" stroke="#111" stroke-width="1.3" />
<circle cx="50.6" cy="201.7" r="1.95" fill="#fff" fill-opacity="0.55" stroke="#111" stroke-width="1.3"/>
<line x1="46" y1="212" x2="56" y2="212" stroke="#111" stroke-width="1.3" />
<polygon points="50.6,209.4 48.2,213.72 53.0,213.72" fill="#111"/>
<text x="60" y="204.9" font-size="8.9" text-anchor="start" font-weight="normal" >WT</text>
<text x="60" y="215.4" font-size="8.9" text-anchor="start" font-weight="normal" >Uhrf1<tspan font-size="5.8" dy="-3.38" font-weight="normal">YP187/188AA</tspan></text>
<text x="260.7" y="189.2" font-size="8.9" text-anchor="middle" font-weight="normal" >WT</text>
<text x="335.6" y="189.2" font-size="8.9" text-anchor="start" font-weight="normal" >Uhrf1<tspan font-size="5.8" dy="-3.38" font-weight="normal">YP187/188AA</tspan></text>
<g clip-path="url(#cD1)">
<rect x="213" y="196" width="108" height="81" fill="#e9e9eb"/>
<path d="M265.4,204.3 C269.5,204.1 272.6,205.1 276.2,206.2 C279.7,207.2 284.1,208.1 286.9,210.8 C289.7,213.5 291.0,219.5 293.1,222.3 C295.1,225.1 297.7,225.3 299.2,227.7 C300.8,230.1 302.4,233.3 302.3,236.9 C302.2,240.5 300.3,245.8 298.5,249.2 C296.7,252.6 294.5,254.7 291.5,257.2 C288.6,259.8 285.1,262.6 280.8,264.6 C276.4,266.6 269.7,268.8 265.4,269.2 C261.0,269.7 257.9,268.5 254.6,267.4 C251.3,266.2 248.2,264.7 245.4,262.3 C242.6,259.9 239.6,256.0 237.7,253.1 C235.8,250.1 234.6,247.3 233.8,244.6 C233.1,241.9 232.8,240.3 233.1,236.9 C233.3,233.6 234.2,228.1 235.4,224.6 C236.5,221.2 237.3,219.0 240.0,216.2 C242.7,213.3 247.3,209.7 251.5,207.7 C255.8,205.7 261.3,204.6 265.4,204.3Z" fill="#e9dcec" stroke="#dc7a9a" stroke-width="1.3" filter="url(#b1)"/>
<path d="M253.1,212.0 C256.8,210.9 262.3,211.0 266.9,211.1 C271.5,211.1 277.3,211.3 280.8,212.3 C284.2,213.3 285.4,214.9 287.7,217.2 C290.0,219.5 293.1,222.6 294.6,226.2 C296.2,229.7 297.3,234.1 297.1,238.5 C296.9,242.8 295.6,248.5 293.4,252.3 C291.2,256.2 288.3,259.2 283.8,261.5 C279.4,263.9 271.8,265.9 266.9,266.5 C262.1,267.0 258.1,265.7 254.6,264.6 C251.2,263.5 248.7,262.0 246.2,259.7 C243.6,257.4 240.8,253.5 239.2,250.8 C237.7,248.0 237.1,246.4 236.9,243.1 C236.8,239.7 237.2,235.0 238.5,230.8 C239.7,226.5 242.2,220.8 244.6,217.7 C247.1,214.6 249.4,213.1 253.1,212.0Z" fill="#875cba" filter="url(#tex)"/>
<path d="M256.2,218.5 C256.7,217.9 259.1,222.4 260.8,223.1 C262.4,223.7 264.4,222.3 266.2,222.3 C267.9,222.3 269.9,223.7 271.5,223.1 C273.2,222.4 275.1,217.9 276.2,218.5 C277.2,219.0 276.8,223.7 277.7,226.2 C278.6,228.6 280.1,230.9 281.5,233.1 C283.0,235.3 286.6,237.9 286.6,239.2 C286.6,240.6 283.0,240.1 281.5,241.2 C280.1,242.4 278.5,244.1 277.7,246.2 C276.9,248.3 277.2,251.3 276.9,253.8 C276.7,256.4 276.8,261.3 276.2,261.5 C275.5,261.8 274.1,257.4 273.1,255.4 C272.1,253.3 271.5,250.8 270.3,249.2 C269.2,247.7 268.0,246.7 266.2,246.2 C264.3,245.6 262.0,246.0 259.2,246.2 C256.5,246.3 250.6,247.7 249.7,246.9 C248.8,246.2 252.8,243.6 253.8,241.5 C254.9,239.5 255.5,237.2 256.2,234.6 C256.8,232.1 257.7,228.8 257.7,226.2 C257.7,223.5 255.6,219.0 256.2,218.5Z" fill="#efebf3" filter="url(#b1)"/>
<path d="M260.0,226.9 C260.9,225.8 263.4,225.3 264.6,225.8 C265.8,226.4 267.0,228.3 267.2,230.0 C267.5,231.7 267.1,235.0 266.2,236.2 C265.2,237.3 262.7,237.6 261.5,236.9 C260.4,236.3 259.5,234.0 259.2,232.3 C259.0,230.6 259.1,228.0 260.0,226.9Z" fill="#8a64c0" filter="url(#b1)"/>
<path d="M218.3,244.7 C219.6,243.1 223.1,242.7 224.7,243.2 C226.3,243.8 227.9,246.2 227.9,247.9 C227.9,249.5 224.9,251.6 224.7,253.2 C224.5,254.8 227.3,256.5 226.8,257.4 C226.3,258.3 223.1,259.2 221.5,258.5 C219.9,257.8 217.8,255.5 217.3,253.2 C216.8,250.9 217.1,246.4 218.3,244.7Z" fill="#dccfde" filter="url(#b2)"/>
</g>
<rect x="213.8" y="196.8" width="106.6" height="79.6" fill="none" stroke="#3a3a3a" stroke-width="1.3"/>
<rect x="229.3" y="233" width="41" height="29.8" fill="none" stroke="#111" stroke-width="1"/>
<line x1="308.2" y1="271.2" x2="314.3" y2="271.2" stroke="#111" stroke-width="1.7" />
<g clip-path="url(#cD2)">
<rect x="321" y="196" width="109" height="81" fill="#d6e8f4"/>
<path d="M356.0,197.1 C359.5,196.3 367.5,196.3 372.9,196.7 C378.3,197.1 384.6,198.1 388.3,199.7 C392.1,201.2 393.1,203.1 395.5,205.8 C398.0,208.5 400.7,212.3 402.9,215.9 C405.1,219.6 407.3,224.0 408.6,227.6 C410.0,231.2 410.9,234.2 411.2,237.5 C411.4,240.9 411.0,244.3 410.1,247.7 C409.2,251.1 407.6,254.9 405.7,257.8 C403.7,260.7 401.4,262.8 398.5,265.0 C395.6,267.2 392.0,269.2 388.3,270.9 C384.7,272.7 381.2,274.6 376.7,275.4 C372.1,276.1 364.6,275.9 361.0,275.4 C357.4,274.9 356.8,273.7 355.1,272.2 C353.4,270.7 352.0,268.9 350.9,266.5 C349.8,264.1 348.8,261.0 348.6,257.8 C348.3,254.7 348.7,251.1 349.2,247.7 C349.7,244.3 350.8,240.6 351.5,237.5 C352.3,234.4 353.6,231.7 353.6,229.1 C353.6,226.4 352.3,225.0 351.5,221.7 C350.8,218.3 349.2,212.1 349.2,208.8 C349.2,205.4 350.6,203.3 351.7,201.3 C352.9,199.4 352.4,197.9 356.0,197.1Z" fill="#d2a6d6" filter="url(#b1)"/>
<path d="M367.0,199.7 C369.9,197.8 382.3,199.9 386.6,201.3 C391.0,202.8 391.0,205.5 393.0,208.1 C395.0,210.8 396.9,213.8 398.7,217.2 C400.5,220.6 402.4,225.0 403.6,228.4 C404.7,231.8 405.4,234.5 405.5,237.5 C405.6,240.6 405.0,243.8 404.2,246.8 C403.3,249.9 402.1,253.3 400.4,255.9 C398.7,258.5 396.7,260.3 394.0,262.3 C391.4,264.3 387.9,266.4 384.5,268.0 C381.2,269.5 377.1,271.2 373.9,271.6 C370.8,271.9 367.2,270.8 365.5,270.1 C363.8,269.4 363.6,267.7 363.8,267.3 C364.0,267.0 364.3,268.8 366.8,268.2 C369.2,267.6 374.8,265.5 378.4,263.5 C382.0,261.6 385.5,259.2 388.3,256.3 C391.2,253.5 393.8,249.3 395.5,246.2 C397.2,243.1 398.6,240.0 398.5,237.5 C398.4,235.0 396.8,233.3 394.9,231.2 C392.9,229.0 389.5,226.7 386.8,224.6 C384.2,222.5 381.2,220.4 379.0,218.7 C376.9,217.0 375.6,215.5 373.9,214.5 C372.2,213.4 370.0,214.8 368.9,212.3 C367.7,209.9 364.0,201.5 367.0,199.7Z" fill="#9a78cc" filter="url(#tex)"/>
<path d="M389.8,201.3 C390.9,202.5 394.1,205.5 396.2,208.1 C398.2,210.8 400.3,213.8 402.1,217.2 C403.8,220.6 405.6,225.0 406.7,228.4 C407.8,231.8 408.5,234.4 408.6,237.5 C408.7,240.7 408.2,244.0 407.4,247.2 C406.5,250.5 405.1,254.1 403.3,256.8 C401.5,259.5 399.3,261.5 396.6,263.5 C393.8,265.6 390.3,267.6 386.8,269.2 C383.4,270.9 377.9,272.6 376.1,273.3" fill="none" stroke="#d47fbf" stroke-width="1.5" filter="url(#b1)"/>
<path d="M368.9,212.3 C368.5,213.1 370.9,215.9 371.8,218.7 C372.8,221.4 374.4,225.7 374.6,228.8 C374.8,232.0 373.8,234.6 373.1,237.5 C372.4,240.4 371.1,243.5 370.3,246.2 C369.6,248.8 368.9,251.4 368.9,253.4 C368.9,255.3 370.7,256.1 370.3,257.8 C370.0,259.5 367.8,262.0 366.8,263.5 C365.7,265.1 363.8,266.6 363.8,267.3 C363.8,268.1 364.3,268.8 366.8,268.2 C369.2,267.6 374.8,265.5 378.4,263.5 C382.0,261.6 385.5,259.2 388.3,256.3 C391.2,253.5 393.8,249.3 395.5,246.2 C397.2,243.1 398.6,240.0 398.5,237.5 C398.4,235.0 396.8,233.3 394.9,231.2 C392.9,229.0 389.5,226.7 386.8,224.6 C384.2,222.5 381.2,220.4 379.0,218.7 C376.9,217.0 375.6,215.5 373.9,214.5 C372.2,213.4 369.2,211.6 368.9,212.3Z" fill="#dbe8f3" filter="url(#b1)"/>
<path d="M351.7,199.2 C354.6,197.9 364.1,197.5 367.0,199.7 C369.8,201.8 368.1,209.2 368.9,212.3 C369.7,215.5 370.9,215.9 371.8,218.7 C372.8,221.4 374.4,225.7 374.6,228.8 C374.8,232.0 373.8,234.6 373.1,237.5 C372.4,240.4 371.1,243.5 370.3,246.2 C369.6,248.8 368.9,251.4 368.9,253.4 C368.9,255.3 370.7,256.1 370.3,257.8 C370.0,259.5 367.8,262.0 366.8,263.5 C365.7,265.1 364.0,266.3 363.8,267.3 C363.6,268.4 366.4,270.0 365.5,270.1 C364.5,270.2 360.2,269.6 358.1,268.0 C356.0,266.4 354.0,263.6 352.8,260.6 C351.6,257.6 350.8,253.7 350.7,250.0 C350.6,246.3 351.4,241.9 352.2,238.4 C352.9,234.8 354.7,231.7 354.9,228.8 C355.1,226.0 354.0,223.9 353.4,221.4 C352.9,219.0 352.3,216.3 351.7,214.0 C351.2,211.7 350.0,210.2 350.0,207.7 C350.0,205.2 348.9,200.6 351.7,199.2Z" fill="#7550c0" filter="url(#tex)"/>
<path d="M354.9,201.3 C356.8,199.4 363.1,200.3 365.5,202.4 C367.8,204.5 368.4,210.0 369.1,214.0 C369.8,218.1 370.3,222.9 369.7,226.7 C369.1,230.6 367.4,235.9 365.5,237.3 C363.5,238.7 359.8,237.3 358.1,235.2 C356.3,233.1 355.6,228.1 354.9,224.6 C354.2,221.1 353.8,217.9 353.8,214.0 C353.8,210.2 353.0,203.3 354.9,201.3Z" fill="#4d2f9c" filter="url(#b2)" opacity="0.7"/>
<path d="M350.0,205.6 C350.6,204.7 351.5,204.4 352.2,205.2 C352.8,205.9 353.6,208.5 353.8,210.2 C354.1,212.0 354.2,214.3 353.8,215.7 C353.5,217.1 352.6,218.7 351.9,218.7 C351.2,218.7 350.1,217.1 349.6,215.7 C349.1,214.3 348.9,211.9 349.0,210.2 C349.1,208.5 349.5,206.4 350.0,205.6Z" fill="#f4f4fa" stroke="#3a2a7a" stroke-width="0.5"/>
<path d="M348.3,206.0 L349.6,205.2 L350.0,216.2 L349.2,216.6Z" fill="#100a28"/>
<path d="M413.1,235.2 C414.3,233.4 417.1,232.0 419.4,232.0 C421.7,232.0 425.3,232.9 426.8,235.2 C428.3,237.5 428.5,242.2 428.3,245.8 C428.1,249.3 427.2,253.7 425.8,256.3 C424.3,259.0 421.4,261.6 419.4,261.6 C417.5,261.6 414.8,258.6 414.1,256.3 C413.4,254.1 415.5,250.2 415.2,247.9 C414.8,245.6 412.4,244.7 412.0,242.6 C411.7,240.5 411.8,237.0 413.1,235.2Z" fill="#c4cfe4" filter="url(#b2)" opacity="0.9"/>
</g>
<rect x="322.6" y="196.8" width="106" height="79.6" fill="none" stroke="#3a3a3a" stroke-width="1.3"/>
<rect x="347.2" y="245.3" width="41" height="29.8" fill="none" stroke="#111" stroke-width="1"/>
<g clip-path="url(#cD3)">
<rect x="213" y="278" width="108" height="81" fill="#f3f0f5"/>
<path d="M220.5,280.2 C224.9,277.4 241.6,277.4 243.7,280.2 C245.8,283.1 235.1,291.9 233.2,297.2 C231.2,302.4 231.0,306.3 232.1,312.0 C233.2,317.6 235.8,325.7 239.5,331.0 C243.2,336.3 248.3,340.3 254.3,343.7 C260.3,347.0 267.7,349.3 275.5,351.1 C283.2,352.9 293.1,354.1 300.8,354.7 C308.6,355.3 318.5,353.7 322.0,354.7 C325.5,355.7 331.5,359.6 322.0,360.6 C312.5,361.6 277.2,362.0 264.9,360.6 C252.5,359.2 253.4,355.7 248.0,352.2 C242.5,348.6 236.5,344.8 232.1,339.5 C227.7,334.2 224.0,327.5 221.5,320.4 C219.1,313.4 217.5,303.9 217.3,297.2 C217.1,290.5 216.1,283.1 220.5,280.2Z" fill="#f0e6ef" filter="url(#b1)"/>
<path d="M216.7,280.2 C216.9,283.1 217.3,290.8 218.3,297.2 C219.4,303.5 220.5,311.6 223.0,318.3 C225.5,325.0 228.6,332.1 233.2,337.3 C237.7,342.6 244.1,346.4 250.1,350.0 C256.1,353.6 265.9,357.4 269.1,358.9" fill="none" stroke="#f2bfd2" stroke-width="4.6" filter="url(#b1)"/>
<path d="M217.1,280.2 C217.4,283.1 217.7,290.8 218.8,297.2 C219.8,303.5 221.0,311.6 223.4,318.3 C225.9,325.0 229.1,332.1 233.6,337.3 C238.1,342.6 244.5,346.4 250.5,350.0 C256.5,353.6 266.4,357.4 269.5,358.9" fill="none" stroke="#e07fa6" stroke-width="1.5" filter="url(#b1)"/>
<path d="M213.1,280.2 C213.2,283.1 213.2,290.8 214.1,297.2 C215.0,303.5 216.1,311.3 218.3,318.3 C220.6,325.4 223.6,333.5 227.9,339.5 C232.1,345.5 239.3,350.7 243.7,354.3 C248.1,357.8 252.5,359.6 254.3,360.6" fill="none" stroke="#f6f2f6" stroke-width="3" filter="url(#b1)"/>
<path d="M243.7,280.7 C251.5,277.9 274.0,279.0 279.7,280.7 C285.4,282.3 278.8,287.7 278.0,290.8 C277.2,293.9 276.6,296.2 275.0,299.3 C273.5,302.4 270.3,306.7 268.7,309.4 C267.1,312.1 263.1,314.7 265.3,315.3 C267.5,315.9 276.6,312.7 281.8,313.0 C287.0,313.3 292.0,315.4 296.6,317.2 C301.2,319.1 305.1,322.3 309.3,324.2 C313.5,326.2 319.9,323.8 322.0,328.9 C324.1,334.0 325.5,350.5 322.0,354.7 C318.5,358.9 308.6,354.9 300.8,354.3 C293.1,353.7 283.2,352.9 275.5,351.1 C267.7,349.3 260.3,347.0 254.3,343.7 C248.3,340.3 243.2,336.3 239.5,331.0 C235.8,325.7 233.2,317.6 232.1,312.0 C231.0,306.3 231.2,302.4 233.2,297.2 C235.1,291.9 236.0,283.4 243.7,280.7Z" fill="#8558ba" filter="url(#tex)"/>
<path d="M235.3,299.3 L264.9,307.7 M234.2,305.6 L263.8,313.0 M234.8,312.0 L262.8,318.3 M237.4,318.3 L264.9,321.5 M240.6,324.7 L267.4,323.6 M245.8,331.0 L272.3,325.7 M253.2,337.3 L277.6,326.8 M261.7,341.6 L283.9,327.8 M271.2,345.8 L290.3,328.9 M281.8,349.0 L296.6,331.0 M292.4,351.1 L304.0,334.2 M303.0,352.2 L311.4,337.3 M313.5,352.6 L318.8,340.5 " stroke="#c9b6e2" stroke-width="1.0" fill="none" filter="url(#b1)" opacity="0.85"/>
<path d="M248.0,282.3 L246.3,299.3 M253.2,282.3 L251.6,299.3 M258.5,282.3 L256.8,299.3 M263.8,282.3 L262.1,299.3 M269.1,282.3 L267.4,299.3 M274.4,282.3 L272.7,299.3 " stroke="#c9b6e2" stroke-width="1.0" fill="none" filter="url(#b1)" opacity="0.85"/>
<path d="M290.7,280.7 C296.3,279.0 316.8,275.4 322.0,280.7 C327.2,285.9 324.6,306.9 322.0,312.4 C319.4,317.9 309.7,314.4 306.1,313.7 C302.6,312.9 302.4,309.5 300.8,307.7 C299.3,306.0 298.3,304.8 296.6,303.1 C294.9,301.3 292.1,299.2 290.7,297.2 C289.3,295.1 288.2,293.6 288.2,290.8 C288.2,288.1 285.1,282.3 290.7,280.7Z" fill="#ac8ccf" filter="url(#tex)"/>
</g>
<rect x="213.8" y="279.2" width="106.6" height="78.2" fill="none" stroke="#3a3a3a" stroke-width="1.3"/>
<line x1="302.2" y1="353.8" x2="313.4" y2="353.8" stroke="#111" stroke-width="1.8" />
<g clip-path="url(#cD4)">
<rect x="321" y="278" width="109" height="81" fill="#dbe9f5"/>
<path d="M377.1,280.2 C386.6,277.8 421.2,276.4 430.0,280.2 C438.8,284.1 433.5,297.5 430.0,303.5 C426.5,309.5 415.5,312.1 408.8,316.2 C402.1,320.2 395.8,324.5 389.8,327.8 C383.8,331.2 378.5,335.2 372.9,336.3 C367.2,337.3 355.3,335.8 356.0,334.2 C356.7,332.6 373.2,331.2 377.1,326.8 C381.0,322.4 379.9,313.0 379.2,307.7 C378.5,302.4 373.2,299.6 372.9,295.0 C372.5,290.5 367.6,282.7 377.1,280.2Z" fill="#e6eff8" filter="url(#b1)"/>
<path d="M324.7,280.2 C333.2,275.6 369.1,277.8 377.1,280.2 C385.2,282.7 376.1,291.5 372.9,295.0 C369.7,298.6 360.9,294.9 358.1,301.4 C355.3,307.9 353.5,328.4 356.0,334.2 C358.4,340.0 367.2,337.3 372.9,336.3 C378.5,335.2 383.8,331.2 389.8,327.8 C395.8,324.5 402.1,320.3 408.8,316.2 C415.5,312.1 426.5,299.5 430.0,303.1 C433.5,306.7 433.2,330.6 430.0,337.8 C426.8,345.0 417.7,343.6 411.0,346.2 C404.3,348.8 397.2,351.8 389.8,353.4 C382.4,355.0 373.6,356.6 366.5,355.8 C359.5,354.9 353.1,352.4 347.5,348.3 C341.9,344.3 336.3,338.2 332.7,331.4 C329.1,324.7 327.3,316.3 325.9,307.7 C324.6,299.2 316.1,284.8 324.7,280.2Z" fill="#ae90d4" filter="url(#tex)"/>
<path d="M327.2,280.2 C327.4,284.8 327.1,299.3 328.5,307.7 C329.8,316.1 331.8,324.1 335.2,330.6 C338.7,337.1 343.8,342.8 349.2,346.7 C354.6,350.5 360.6,353.0 367.4,353.8 C374.2,354.7 382.6,353.1 389.8,351.5 C397.0,349.9 403.8,346.9 410.5,344.3 C417.2,341.7 426.8,337.3 430.0,335.9" fill="none" stroke="#c68ccf" stroke-width="4.2" filter="url(#b1)" opacity="0.8"/>
<path d="M325.1,280.2 C325.3,284.8 325.0,299.2 326.3,307.7 C327.7,316.3 329.5,324.7 333.1,331.4 C336.7,338.2 342.3,344.3 347.9,348.3 C353.6,352.4 360.0,354.9 367.0,355.8 C373.9,356.6 382.5,355.0 389.8,353.4 C397.1,351.8 404.3,348.8 411.0,346.2 C417.7,343.6 426.8,339.2 430.0,337.8" fill="none" stroke="#cf72bb" stroke-width="1.8" filter="url(#b1)"/>
<path d="M332.7,280.7 C340.0,279.3 369.8,278.6 377.1,280.7 C384.4,282.7 378.3,290.0 376.7,292.9 C375.1,295.8 370.7,296.9 367.6,298.2 C364.5,299.6 358.4,300.1 358.1,301.0 C357.7,301.8 362.6,302.4 365.5,303.5 C368.4,304.6 373.2,305.8 375.4,307.7 C377.6,309.7 378.8,312.0 378.8,315.1 C378.8,318.3 378.0,324.1 375.4,326.8 C372.8,329.5 366.8,331.2 363.4,331.4 C359.9,331.6 356.8,330.4 354.9,327.8 C353.0,325.3 353.3,319.9 351.7,316.2 C350.1,312.5 348.0,308.4 345.4,305.6 C342.7,302.8 337.9,302.1 335.9,299.3 C333.8,296.4 333.6,291.8 333.1,288.7 C332.6,285.6 325.4,282.0 332.7,280.7Z" fill="#7450b8" filter="url(#tex)"/>
<path d="M356.0,332.1 C356.8,331.6 362.7,333.4 365.5,333.5 C368.3,333.6 372.0,332.3 372.9,332.7 C373.8,333.0 372.9,335.1 370.8,335.7 C368.7,336.3 362.7,336.9 360.2,336.3 C357.7,335.7 355.1,332.5 356.0,332.1Z" fill="#e8eff8" filter="url(#b1)"/>
</g>
<rect x="322.6" y="279.2" width="106" height="78.2" fill="none" stroke="#3a3a3a" stroke-width="1.3"/>
<rect x="480.6" y="291.7" width="13.6" height="33.0" fill="#fff" stroke="#111" stroke-width="1.2"/>
<rect x="501.5" y="263.2" width="14" height="61.5" fill="#111"/>
<line x1="487.4" y1="291.7375" x2="487.4" y2="287.12275" stroke="#111" stroke-width="1.1" />
<line x1="484.6" y1="287.12275" x2="490.2" y2="287.12275" stroke="#111" stroke-width="1.1" />
<line x1="508.5" y1="263.17" x2="508.5" y2="258.99475" stroke="#111" stroke-width="1.2" />
<line x1="505.7" y1="258.99475" x2="511.3" y2="258.99475" stroke="#111" stroke-width="1.2" />
<line x1="476.5" y1="236.1" x2="476.5" y2="325.4" stroke="#111" stroke-width="1.5" />
<line x1="475.8" y1="324.7" x2="517.5" y2="324.7" stroke="#111" stroke-width="1.5" />
<line x1="472.6" y1="324.7" x2="476.5" y2="324.7" stroke="#111" stroke-width="1.3" />
<text x="469" y="327.8" font-size="8.9" text-anchor="end" font-weight="normal" >0</text>
<line x1="472.6" y1="302.725" x2="476.5" y2="302.725" stroke="#111" stroke-width="1.3" />
<text x="469" y="305.82500000000005" font-size="8.9" text-anchor="end" font-weight="normal" >2</text>
<line x1="472.6" y1="280.75" x2="476.5" y2="280.75" stroke="#111" stroke-width="1.3" />
<text x="469" y="283.85" font-size="8.9" text-anchor="end" font-weight="normal" >4</text>
<line x1="472.6" y1="258.775" x2="476.5" y2="258.775" stroke="#111" stroke-width="1.3" />
<text x="469" y="261.875" font-size="8.9" text-anchor="end" font-weight="normal" >6</text>
<line x1="472.6" y1="236.8" x2="476.5" y2="236.8" stroke="#111" stroke-width="1.3" />
<text x="469" y="239.9" font-size="8.9" text-anchor="end" font-weight="normal" >8</text>
<line x1="487.4" y1="324.7" x2="487.4" y2="328" stroke="#111" stroke-width="1.2" />
<line x1="508.5" y1="324.7" x2="508.5" y2="328.2" stroke="#111" stroke-width="1.3" />
<text x="505.94" y="253.70" font-size="7.5" font-weight="bold">*</text>
<text transform="translate(454,283.5) rotate(-90)" font-size="8.9" text-anchor="middle">Histological analysis</text>
<text transform="translate(491.3,335) rotate(-45)" font-size="9.5" text-anchor="end">WT</text>
<text transform="translate(511,338) rotate(-45)" font-size="9.1" text-anchor="end">Uhrf1<tspan font-size="5.8" dy="-3.2">YP187/188AA</tspan></text>
<line x1="61.6" y1="389.3" x2="61.6" y2="477.1" stroke="#111" stroke-width="1.6" />
<line x1="60.8" y1="476.3" x2="324.5" y2="476.3" stroke="#111" stroke-width="1.6" />
<line x1="56.9" y1="390.0" x2="61.6" y2="390.0" stroke="#111" stroke-width="1.3" />
<text x="51.8" y="392.3" font-size="8.9" text-anchor="end" font-weight="normal" >32</text>
<line x1="56.9" y1="411.575" x2="61.6" y2="411.575" stroke="#111" stroke-width="1.3" />
<text x="51.8" y="413.875" font-size="8.9" text-anchor="end" font-weight="normal" >1</text>
<line x1="56.9" y1="433.15" x2="61.6" y2="433.15" stroke="#111" stroke-width="1.3" />
<text x="51.8" y="435.45" font-size="8.9" text-anchor="end" font-weight="normal" >3.1E-2</text>
<line x1="56.9" y1="454.725" x2="61.6" y2="454.725" stroke="#111" stroke-width="1.3" />
<text x="51.8" y="457.02500000000003" font-size="8.9" text-anchor="end" font-weight="normal" >9.8E-4</text>
<line x1="56.9" y1="476.3" x2="61.6" y2="476.3" stroke="#111" stroke-width="1.3" />
<text x="51.8" y="478.6" font-size="8.9" text-anchor="end" font-weight="normal" >3.1E-5</text>
<text transform="translate(15.2,430) rotate(-90)" font-size="8.9" text-anchor="middle">Relative mRNA level (log2)</text>
<rect x="69.05" y="412.1" width="8.9" height="64.2" fill="#fff" stroke="#111" stroke-width="1.7"/>
<line x1="73.55" y1="411.8" x2="73.55" y2="410.2" stroke="#111" stroke-width="0.9" />
<line x1="71.75" y1="410.2" x2="75.35" y2="410.2" stroke="#111" stroke-width="0.9" />
<rect x="83.15" y="412.5" width="8.9" height="63.8" fill="url(#chk)" stroke="#111" stroke-width="1.7"/>
<line x1="87.64999999999999" y1="412.2" x2="87.64999999999999" y2="410.59999999999997" stroke="#111" stroke-width="0.9" />
<line x1="85.85" y1="410.59999999999997" x2="89.44999999999999" y2="410.59999999999997" stroke="#111" stroke-width="0.9" />
<rect x="97.25" y="444.6" width="8.9" height="31.7" fill="url(#hst)" stroke="#111" stroke-width="1.7"/>
<rect x="111.35" y="450.3" width="8.9" height="26.0" fill="url(#vst)" stroke="#111" stroke-width="1.7"/>
<line x1="70.95" y1="402.8" x2="89.35" y2="402.8" stroke="#111" stroke-width="1.5" />
<text x="79.75" y="396.6" font-size="8.8" text-anchor="middle" font-weight="normal" >N.S.</text>
<line x1="100.05" y1="437.5" x2="117.55" y2="437.5" stroke="#111" stroke-width="1.4" />
<text x="107.49" y="434.00" font-size="7.5" font-weight="bold">*</text>
<line x1="94.65" y1="476.3" x2="94.65" y2="480.2" stroke="#111" stroke-width="1.3" />
<text transform="translate(98.4,491.8) rotate(-45)" font-size="8.9" text-anchor="end">Zo1</text>
<rect x="134.20" y="412.3" width="8.9" height="64.0" fill="#fff" stroke="#111" stroke-width="1.7"/>
<line x1="138.70000000000002" y1="412.0" x2="138.70000000000002" y2="410.4" stroke="#111" stroke-width="0.9" />
<line x1="136.9" y1="410.4" x2="140.5" y2="410.4" stroke="#111" stroke-width="0.9" />
<rect x="148.30" y="411.5" width="8.9" height="64.8" fill="url(#chk)" stroke="#111" stroke-width="1.7"/>
<line x1="152.8" y1="411.2" x2="152.8" y2="409.59999999999997" stroke="#111" stroke-width="0.9" />
<line x1="151.0" y1="409.59999999999997" x2="154.6" y2="409.59999999999997" stroke="#111" stroke-width="0.9" />
<rect x="162.40" y="430.8" width="8.9" height="45.5" fill="url(#hst)" stroke="#111" stroke-width="1.7"/>
<rect x="176.50" y="437.3" width="8.9" height="39.0" fill="url(#vst)" stroke="#111" stroke-width="1.7"/>
<line x1="136.1" y1="402.8" x2="154.5" y2="402.8" stroke="#111" stroke-width="1.5" />
<text x="144.9" y="396.6" font-size="8.8" text-anchor="middle" font-weight="normal" >N.S.</text>
<line x1="165.20000000000002" y1="423.7" x2="182.7" y2="423.7" stroke="#111" stroke-width="1.4" />
<text x="172.64" y="420.20" font-size="7.5" font-weight="bold">*</text>
<line x1="159.8" y1="476.3" x2="159.8" y2="480.2" stroke="#111" stroke-width="1.3" />
<text transform="translate(164.0,489.3) rotate(-45)" font-size="8.9" text-anchor="end">Tricellulin</text>
<rect x="200.10" y="412.3" width="8.9" height="64.0" fill="#fff" stroke="#111" stroke-width="1.7"/>
<line x1="204.60000000000002" y1="412.0" x2="204.60000000000002" y2="410.4" stroke="#111" stroke-width="0.9" />
<line x1="202.8" y1="410.4" x2="206.4" y2="410.4" stroke="#111" stroke-width="0.9" />
<rect x="214.20" y="410.5" width="8.9" height="65.8" fill="url(#chk)" stroke="#111" stroke-width="1.7"/>
<line x1="218.70000000000002" y1="410.2" x2="218.70000000000002" y2="408.59999999999997" stroke="#111" stroke-width="0.9" />
<line x1="216.9" y1="408.59999999999997" x2="220.5" y2="408.59999999999997" stroke="#111" stroke-width="0.9" />
<rect x="228.30" y="462.3" width="8.9" height="14.0" fill="url(#hst)" stroke="#111" stroke-width="1.7"/>
<rect x="242.40" y="470.6" width="8.9" height="5.7" fill="url(#vst)" stroke="#111" stroke-width="1.7"/>
<line x1="202.0" y1="402.8" x2="220.4" y2="402.8" stroke="#111" stroke-width="1.5" />
<text x="210.8" y="396.6" font-size="8.8" text-anchor="middle" font-weight="normal" >N.S.</text>
<line x1="231.10000000000002" y1="455.2" x2="248.60000000000002" y2="455.2" stroke="#111" stroke-width="1.4" />
<text x="238.54" y="451.70" font-size="7.5" font-weight="bold">*</text>
<line x1="225.70000000000002" y1="476.3" x2="225.70000000000002" y2="480.2" stroke="#111" stroke-width="1.3" />
<text transform="translate(227.4,490.0) rotate(-45)" font-size="8.9" text-anchor="end">Claudin5</text>
<rect x="265.30" y="412.3" width="8.9" height="64.0" fill="#fff" stroke="#111" stroke-width="1.7"/>
<line x1="269.8" y1="412.0" x2="269.8" y2="410.4" stroke="#111" stroke-width="0.9" />
<line x1="268.0" y1="410.4" x2="271.6" y2="410.4" stroke="#111" stroke-width="0.9" />
<rect x="279.40" y="410.8" width="8.9" height="65.5" fill="url(#chk)" stroke="#111" stroke-width="1.7"/>
<line x1="283.90000000000003" y1="410.5" x2="283.90000000000003" y2="408.9" stroke="#111" stroke-width="0.9" />
<line x1="282.1" y1="408.9" x2="285.70000000000005" y2="408.9" stroke="#111" stroke-width="0.9" />
<rect x="293.50" y="442.1" width="8.9" height="34.2" fill="url(#hst)" stroke="#111" stroke-width="1.7"/>
<rect x="307.60" y="449.3" width="8.9" height="27.0" fill="url(#vst)" stroke="#111" stroke-width="1.7"/>
<line x1="267.2" y1="402.8" x2="285.6" y2="402.8" stroke="#111" stroke-width="1.5" />
<text x="276.0" y="396.6" font-size="8.8" text-anchor="middle" font-weight="normal" >N.S.</text>
<line x1="296.3" y1="435.0" x2="313.8" y2="435.0" stroke="#111" stroke-width="1.4" />
<text x="303.74" y="431.50" font-size="7.5" font-weight="bold">*</text>
<line x1="290.9" y1="476.3" x2="290.9" y2="480.2" stroke="#111" stroke-width="1.3" />
<text transform="translate(292.1,491.3) rotate(-45)" font-size="8.9" text-anchor="end">Claudin10</text>
<rect x="327.4" y="393.1" width="9.3" height="4.8" fill="#fff" stroke="#111" stroke-width="1.35"/>
<rect x="327.4" y="403.6" width="9.3" height="4.8" fill="url(#chk)" stroke="#111" stroke-width="1.35"/>
<rect x="327.4" y="413.70000000000005" width="9.3" height="4.8" fill="url(#hst)" stroke="#111" stroke-width="1.35"/>
<rect x="327.4" y="423.40000000000003" width="9.3" height="4.8" fill="url(#vst)" stroke="#111" stroke-width="1.35"/>
<text x="345" y="398.6" font-size="8.9" text-anchor="start" font-weight="normal" >WT steady state</text>
<text x="345" y="409.0" font-size="8.9" text-anchor="start" font-weight="normal" >Uhrf1<tspan font-size="5.8" dy="-3.38" font-weight="normal">YP187/188AA</tspan><tspan dy="3.38" font-size="8.9"> steady state</tspan></text>
<text x="345" y="419.2" font-size="8.9" text-anchor="start" font-weight="normal" >WT</text>
<text x="345" y="429.2" font-size="8.9" text-anchor="start" font-weight="normal" >Uhrf1<tspan font-size="5.8" dy="-3.38" font-weight="normal">YP187/188AA</tspan></text>
</svg></body></html>
